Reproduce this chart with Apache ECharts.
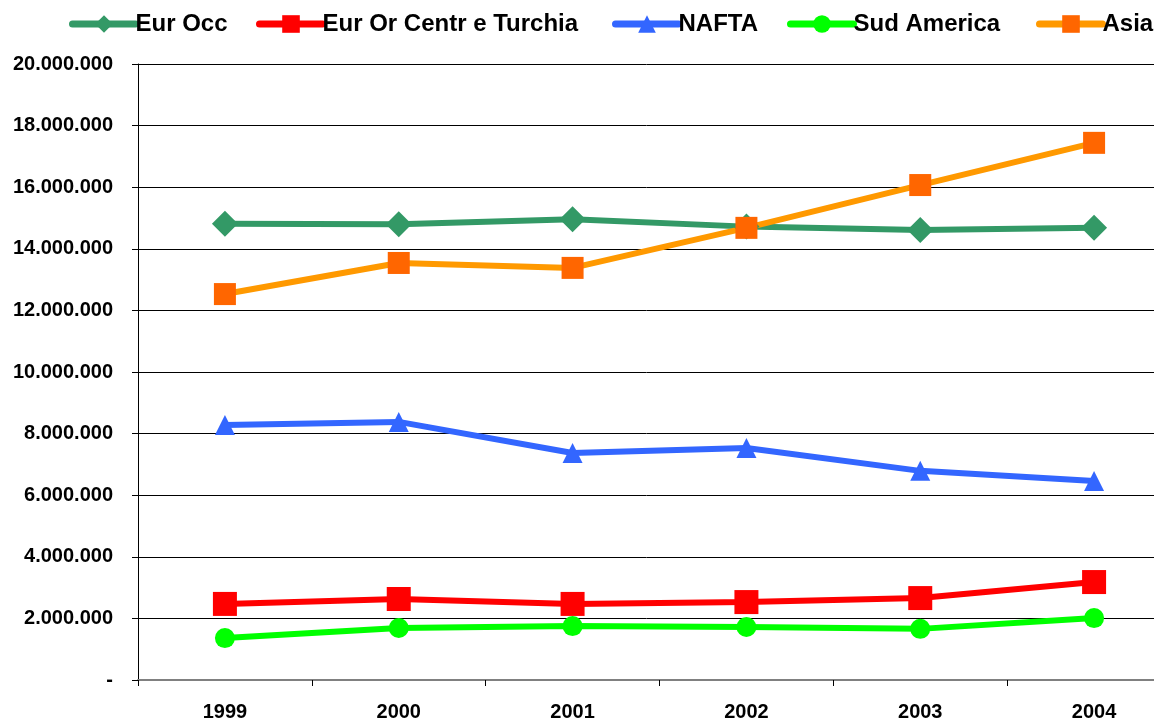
<!DOCTYPE html>
<html>
<head>
<meta charset="utf-8">
<script src="https://cdn.jsdelivr.net/npm/echarts@6/dist/echarts.min.js"></script>
<style>
    html, body { margin: 0; padding: 0; background: #fff; }
    #chart { width: 1154px; height: 720px; }
</style>
</head>
<body>
<div id="chart"></div>
<script>
// anni sull'asse x
const years = ['1999', '2000', '2001', '2002', '2003', '2004']
// valori per area
const eurOcc = [14810000, 14800000, 14960000, 14720000, 14610000, 14680000]
const eurOrTurchia = [2470000, 2630000, 2470000, 2530000, 2660000, 3180000]
const nafta = [8280000, 8380000, 7370000, 7530000, 6790000, 6460000]
const sudAmerica = [1360000, 1690000, 1750000, 1720000, 1660000, 2010000]
const asia = [12530000, 13540000, 13380000, 14680000, 16070000, 17440000]
// nomi in legenda
const names = ['Eur Occ', 'Eur Or Centr e Turchia', 'NAFTA', 'Sud America', 'Asia']

const font = 'Liberation Sans, Arial, sans-serif'
// posizione orizzontale di ogni voce di legenda (come nell'originale)
const legendLeft = [69, 256, 612, 787, 1036]

// 20000000 -> 20.000.000, 0 -> -
function fmt(v) {
    if (v === 0) return '-'
    return String(v).replace(/\B(?=(\d{3})+(?!\d))/g, '.')
}

function serie(name, data, color, symbol, size, markColor) {
    return {
        name: name,
        type: 'line',
        data: data,
        symbol: symbol,
        symbolSize: size,
        showAllSymbol: true,
        lineStyle: { color: color, width: 6 },
        itemStyle: { color: markColor || color },
        emphasis: { disabled: true }
    }
}

// una legenda per voce, per riprodurre le spaziature irregolari
let legends = names.map((n, i) => ({
    data: [n],
    left: legendLeft[i],
    top: 12,
    padding: 0,
    itemWidth: 63,
    itemHeight: 22,
    lineStyle: { width: 7, cap: 'round' },
    textStyle: { fontFamily: font, fontWeight: 'bold', fontSize: 24, color: '#000', padding: [0, 0, 0, -5] }
}))

let mychart = echarts.init(document.getElementById('chart'))
mychart.setOption({
    animation: false,
    legend: legends,
    grid: {
        left: 138,
        top: 64,
        width: 1043,
        height: 616,
        outerBoundsMode: 'none'
    },
    xAxis: {
        type: 'category',
        data: years,
        boundaryGap: true,
        axisLine: { lineStyle: { color: '#808080', width: 2 } },
        axisTick: { show: true, length: 6, lineStyle: { color: '#000', width: 1 } },
        axisLabel: { margin: 22, fontFamily: font, fontWeight: 'bold', fontSize: 20, color: '#000' }
    },
    yAxis: {
        type: 'value',
        min: 0,
        max: 20000000,
        interval: 2000000,
        axisLine: { show: true, lineStyle: { color: '#000', width: 1 } },
        axisTick: { show: true, length: 6, lineStyle: { color: '#000' } },
        splitLine: { lineStyle: { color: '#000', width: 1 } },
        axisLabel: { margin: 25, fontFamily: font, fontWeight: 'bold', fontSize: 20, color: '#000', formatter: fmt }
    },
    series: [
        serie(names[0], eurOcc, '#339966', 'diamond', 26),
        serie(names[1], eurOrTurchia, '#FF0000', 'rect', 24),
        serie(names[2], nafta, '#3366FF', 'triangle', 20),
        serie(names[3], sudAmerica, '#00FF00', 'circle', 20),
        serie(names[4], asia, '#FF9900', 'rect', 22, '#FF6600')
    ]
})
</script>
</body>
</html>
